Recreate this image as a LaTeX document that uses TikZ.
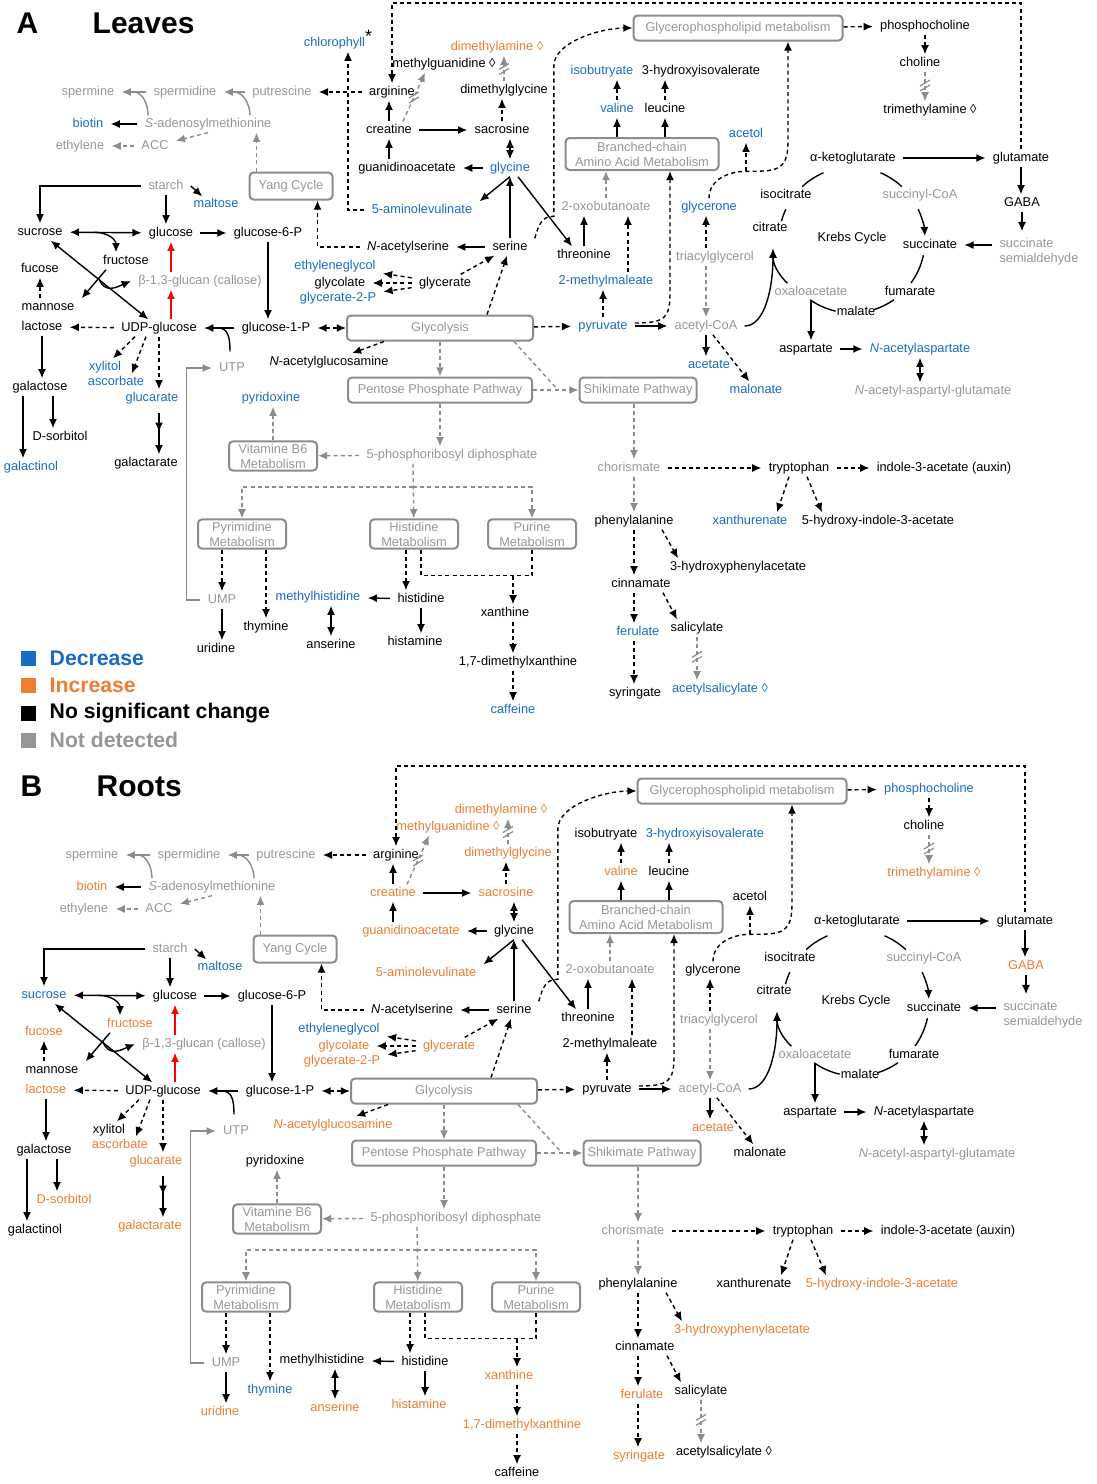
\documentclass[tikz,border=0pt]{standalone}
\usepackage{fontspec}
\setmainfont{Liberation Sans}
\usepackage{etoolbox}
\usetikzlibrary{arrows.meta,calc}
\definecolor{dec}{RGB}{24,108,196}
\definecolor{inc}{RGB}{237,125,49}
\definecolor{nd}{RGB}{150,150,150}
\definecolor{ndline}{RGB}{140,140,140}
\tikzstyle{every node}=[font=\fontsize{6.4}{7.5}\selectfont]
\tikzset{
  met/.code={\ifcsname mc-#1\endcsname\edef\metcol{\csname mc-#1\endcsname}\else\def\metcol{black}\fi
    \pgfkeysalso{text=\metcol,text height=4.7pt,text depth=1.3pt,inner ysep=1pt}},
  nd/.style={text=nd,text height=4.7pt,text depth=1.3pt,inner ysep=1pt},
  gy/.style={draw=ndline},
  pw/.style={draw=ndline,line width=1pt,rounded corners=2pt,text=nd,align=center,
    minimum height=12.5pt,inner sep=1.2pt},
  dashed/.style={dash pattern=on 2pt off 1.6pt},
  brk/.pic={\draw[draw=ndline,solid,line width=0.6pt] (-5,1)--(5,-5) (-5,6)--(5,0);},
  swatch/.style={fill=#1,minimum size=7.5pt,inner sep=0pt},
  legtext/.style={anchor=west,inner sep=0pt,font=\bfseries\fontsize{10.6}{12}\selectfont},
  panel/.style={anchor=west,inner sep=0pt,font=\bfseries\fontsize{15}{18}\selectfont}
}
% colour of a metabolite in one panel
\newcommand\paintone[2]{\csdef{mc-#2}{#1}}
\newcommand\paint[2]{\forcsvlist{\paintone{#1}}{#2}}

\newcommand\metabolism{%
% polyamines
\node[nd] (spermine) at (88,92) {spermine};
\node[nd] (spermidine) at (185,92) {spermidine};
\node[nd] (putrescine) at (282,92) {putrescine};
\node[nd] (sam) at (208,124) {\textit{S}-adenosylmethionine};
\node[met=biotin] (biotin) at (88,124) {biotin};
\node[nd] (ethylene) at (80,146) {ethylene};
\node[nd] (acc) at (155,146) {ACC};
\node[pw,minimum width=41.5pt,minimum height=13.5pt] (yang) at (291,186) {Yang Cycle};
% arginine, glycine, serine
\node[met=arginine] (arginine) at (392,92) {arginine};
\node[met=mguan] (mguan) at (444,64) {methylguanidine ◊};
\node[met=dma] (dma) at (497,47) {dimethylamine ◊};
\node[met=dmgly] (dmgly) at (504,90) {dimethylglycine};
\node[met=creatine] (creatine) at (389,130) {creatine};
\node[met=sarc] (sarc) at (502,130) {sacrosine};
\node[met=gaa] (gaa) at (407,168) {guanidinoacetate};
\node[met=glycine] (glycine) at (510,168) {glycine};
\node[met=ala] (ala) at (422,210) {5-aminolevulinate};
\node[met=serine] (serine) at (510,247) {serine};
\node[met=nacser] (nacser) at (408,247) {\textit{N}-acetylserine};
\node[met=eglycol] (eglycol) at (335,266) {ethyleneglycol};
\node[met=glycolate] (glycolate) at (340,283) {glycolate};
\node[met=g2p] (g2p) at (338,298) {glycerate-2-P};
\node[met=glycerate] (glycerate) at (445,283) {glycerate};
% sugars
\node[nd] (starch) at (166,186) {starch};
\node[met=maltose] (maltose) at (216,204) {maltose};
\node[met=sucrose] (sucrose) at (40,232) {sucrose};
\node[met=glucose] (glucose) at (171,233) {glucose};
\node[met=g6p] (g6p) at (268,233) {glucose-6-P};
\node[met=fructose] (fructose) at (126,261) {fructose};
\node[met=fucose] (fucose) at (40,269) {fucose};
\node[nd] (callose) at (200,281) {β-1,3-glucan (callose)};
\node[met=mannose] (mannose) at (48,307) {mannose};
\node[met=lactose] (lactose) at (42,327) {lactose};
\node[met=udpg] (udpg) at (159,328) {UDP-glucose};
\node[met=g1p] (g1p) at (276,328) {glucose-1-P};
\node[met=nacglc] (nacglc) at (329,362) {\textit{N}-acetylglucosamine};
\node[nd] (utp) at (232,368) {UTP};
\node[met=xylitol] (xylitol) at (105,367) {xylitol};
\node[met=ascorbate] (ascorbate) at (116,382) {ascorbate};
\node[met=glucarate] (glucarate) at (152,398) {glucarate};
\node[met=galactose] (galactose) at (40,387) {galactose};
\node[met=sorbitol] (sorbitol) at (60,437) {D-sorbitol};
\node[met=galactinol] (galactinol) at (31,467) {galactinol};
\node[met=galactarate] (galactarate) at (146,463) {galactarate};
% pathway boxes
\node[pw,minimum width=93pt] (glycolysis) at (440,328) {Glycolysis};
\node[pw,minimum width=92pt] (ppp) at (440,390) {Pentose Phosphate Pathway};
\node[pw,minimum width=58.5pt] (shikimate) at (638,390) {Shikimate Pathway};
\node[pw,minimum width=44pt] (vitb6) at (273,456) {Vitamine B6\\Metabolism};
\node[nd] (prpp) at (452,455) {5-phosphoribosyl diphosphate};
\node[pw,minimum width=44pt] (pyrimidine) at (242,534) {Pyrimidine\\Metabolism};
\node[pw,minimum width=44pt] (histmet) at (414,534) {Histidine\\Metabolism};
\node[pw,minimum width=44pt] (purine) at (532,534) {Purine\\Metabolism};
\node[met=pyridoxine] (pyridoxine) at (271,398) {pyridoxine};
% nucleotides, histidine, purines
\node[nd] (ump) at (222,600) {UMP};
\node[met=uridine] (uridine) at (216,649) {uridine};
\node[met=thymine] (thymine) at (266,627) {thymine};
\node[met=mhis] (mhis) at (318,597) {methylhistidine};
\node[met=anserine] (anserine) at (331,645) {anserine};
\node[met=histidine] (histidine) at (421,599) {histidine};
\node[met=histamine] (histamine) at (415,642) {histamine};
\node[met=xanthine] (xanthine) at (505,613) {xanthine};
\node[met=dmx] (dmx) at (518,662) {1,7-dimethylxanthine};
\node[met=caffeine] (caffeine) at (513,710) {caffeine};
% lipids, branched chain, pyruvate
\node[pw,minimum width=104.5pt] (gpl) at (738,28) {Glycerophospholipid metabolism};
\node[met=pcholine] (pcholine) at (925,26) {phosphocholine};
\node[met=choline] (choline) at (920,63) {choline};
\node[met=tma] (tma) at (930,110) {trimethylamine ◊};
\node[met=isobut] (isobut) at (602,71) {isobutryate};
\node[met=hiv] (hiv) at (701,71) {3-hydroxyisovalerate};
\node[met=valine] (valine) at (617,109) {valine};
\node[met=leucine] (leucine) at (665,109) {leucine};
\node[met=acetol] (acetol) at (746,134) {acetol};
\node[pw,minimum width=76.5pt,minimum height=16pt] (bcaa) at (642,154) {Branched-chain\\Amino Acid Metabolism};
\node[nd] (oxobut) at (606,207) {2-oxobutanoate};
\node[met=glycerone] (glycerone) at (709,207) {glycerone};
\node[met=threonine] (threonine) at (584,255) {threonine};
\node[nd] (tag) at (715,257) {triacylglycerol};
\node[met=mmal] (mmal) at (606,281) {2-methylmaleate};
\node[met=pyruvate] (pyruvate) at (603,326) {pyruvate};
\node[nd] (acoa) at (706,326) {acetyl-CoA};
\node[met=acetate] (acetate) at (709,365) {acetate};
\node[met=malonate] (malonate) at (756,390) {malonate};
% Krebs cycle
\node[met=akg] (akg) at (853,158) {α-ketoglutarate};
\node[met=glutamate] (glutamate) at (1021,158) {glutamate};
\node[met=gaba] (gaba) at (1022,203) {GABA};
\node[text=nd,align=left] (ssa) at (1039,252) {succinate\\semialdehyde};
\node[nd] (succoa) at (920,195) {succinyl-CoA};
\node[met=succinate] (succinate) at (930,245) {succinate};
\node[met=fumarate] (fumarate) at (910,292) {fumarate};
\node[met=malate] (malate) at (856,312) {malate};
\node[nd] (oaa) at (811,292) {oxaloacetate};
\node[met=citrate] (citrate) at (770,228) {citrate};
\node[met=isocitrate] (isocitrate) at (786,195) {isocitrate};
\node[met=krebs] (krebs) at (852,238) {Krebs Cycle};
\node[met=aspartate] (aspartate) at (806,349) {aspartate};
\node[met=naa] (naa) at (920,349) {\textit{N}-acetylaspartate};
\node[nd] (naag) at (933,391) {\textit{N}-acetyl-aspartyl-glutamate};
% aromatics
\node[nd] (chorismate) at (629,468) {chorismate};
\node[met=tryptophan] (tryptophan) at (799,468) {tryptophan};
\node[met=iaa] (iaa) at (944,468) {indole-3-acetate (auxin)};
\node[met=phe] (phe) at (634,521) {phenylalanine};
\node[met=xanthurenate] (xanthurenate) at (750,521) {xanthurenate};
\node[met=hiaa] (hiaa) at (878,521) {5-hydroxy-indole-3-acetate};
\node[met=hpa] (hpa) at (738,567) {3-hydroxyphenylacetate};
\node[met=cinnamate] (cinnamate) at (641,584) {cinnamate};
\node[met=ferulate] (ferulate) at (638,632) {ferulate};
\node[met=salicylate] (salicylate) at (697,628) {salicylate};
\node[met=syringate] (syringate) at (635,693) {syringate};
\node[met=asa] (asa) at (720,689) {acetylsalicylate ◊};
%
% connectors: polyamines
\draw[gy,->] (putrescine) -- (spermidine);
\draw[gy,->] (spermidine) -- (spermine);
\draw[gy] ($(sam.north)+(42,0)$) .. controls +(0,-12) and +(8,0) .. ($(putrescine.west)!.5!(spermidine.east)$);
\draw[gy] ($(sam.north)+(-60,0)$) .. controls +(0,-12) and +(8,0) .. ($(spermidine.west)!.5!(spermine.east)$);
\draw[->] (sam) -- (biotin);
\draw[gy,dashed,->] (sam.south) -- (acc);
\draw[gy,dashed,->] (acc) -- (ethylene);
\coordinate (yt) at ($(yang.north west)+(8,0)$);
\draw[gy,dashed,->] (yt) -- (yt |- sam.south);
\coordinate (top) at (0,3);
\draw[dashed,->] (glutamate.north) -- (glutamate.north |- top) -| (arginine);
\draw[dashed,->] (arginine) -- (putrescine);
% arginine, glycine, serine
\draw[->] (creatine) -- (creatine |- arginine.south);
\draw[gy,dashed,->] ($(creatine.north)+(14,0)$) -- coordinate[pos=.5] (cmg) ($(mguan.south)+(-19,0)$);
\pic at (cmg) {brk};
\draw[gy,dashed,->] (dmgly) -- coordinate[pos=.5] (dmg) (dmgly |- dma.south);
\pic at (dmg) {brk};
\draw[->] (creatine) -- (sarc);
\draw[dashed,->] (sarc) -- (sarc |- dmgly.south);
\draw[<->] (glycine) -- (glycine |- sarc.south);
\draw[->] (glycine) -- (gaa);
\draw[->] (creatine |- gaa.north) -- (creatine);
\draw[->] (glycine.south) -- (ala.north east);
\draw[->] ($(glycine.south)+(8,0)$) -- ($(threonine.north)+(-12,0)$);
\draw[->] (serine) -- (serine |- glycine.south);
\draw[->] (serine) -- (nacser);
\draw[dashed,->] (nacser) -| ($(yang.south east)+(-16,0)$);
\draw[dashed,->] (glycerate) -- (serine);
\draw[dashed,->] (glycerate) -- (eglycol);
\draw[dashed,->] (glycerate) -- (glycolate);
\draw[dashed,->] (glycerate) -- (g2p);
\draw[dashed,->] ($(glycolysis.north)+(47,0)$) -- (serine);
\draw[dashed,->] (serine.north east) .. controls +(4,-14) and +(-12,0) .. ++(19,-22) -- ++(0,-150)
  .. controls +(0,-25) and +(-30,0) .. (gpl.west);
% sugars
\draw[->] (starch) -| (sucrose);
\draw[->] (starch) -- (starch |- glucose.north);
\draw[->] (starch.east) -- ($(maltose.north west)+(16,1)$);
\draw[<->] (sucrose) -- coordinate[pos=.35] (sgj) (glucose);
\draw[->] (sgj) .. controls +(14,0) and +(0,-12) .. ($(fructose.north)+(-10,0)$);
\draw[->] (glucose) -- (g6p);
\draw[->] (g6p) -- (g6p |- g1p.north);
\draw[red,->] (glucose |- callose.north) -- (glucose);
\draw[red,->] (glucose |- udpg.north) -- (glucose |- callose.south);
\draw[<->] (sucrose) -- (udpg);
\draw[->] ($(fructose.south)+(-20,0)$) -- coordinate[pos=.3] (fmj) (mannose.north east);
\draw[->] (fmj) .. controls +(6,16) and +(-14,6) .. (callose.west);
\draw[dashed,->] (fucose |- mannose.north) -- (fucose);
\draw[dashed,->] (udpg) -- (lactose);
\draw[->] (lactose) -- (lactose |- galactose.north);
\draw[->] ($(galactose.south)+(13,0)$) -- ($(sorbitol.north)+(-7,0)$);
\draw[->] ($(galactose.south)+(-17,0)$) -- ($(galactinol.north)+(-8,0)$);
\draw[dashed,->] ($(udpg.south)+(-24,0)$) -- ($(xylitol.north)+(8,0)$);
\draw[dashed,->] ($(udpg.south)+(-13,0)$) -- ($(ascorbate.north)+(16,0)$);
\draw[dashed,->] (udpg) -- (udpg |- glucarate.north);
\draw[->] ($(glucarate.south)+(7,6)$) coordinate (gcj) -- ++(0,19);
\draw[->] (gcj) -- (gcj |- galactarate.north);
\draw[->] (g1p) -- (udpg);
\draw ($(utp.north)+(-2,-8)$) .. controls +(0,-14) and +(10,0) .. ($(udpg.east)+(14,0)$);
\draw[gy,->] (ump.west) -- ++(-14,0) |- (utp);
\draw[dashed,<->] (g1p) -- (glycolysis);
\draw[dashed,->] ($(glycolysis.south west)+(38,0)$) -- ($(nacglc.north)+(23,0)$);
% pathways
\draw[gy,dashed,->] (glycolysis) -- (ppp);
\draw[gy,dashed] ($(glycolysis.south east)+(-20,0)$) -- ($(ppp.east)!.55!(shikimate.west)$);
\draw[gy,dashed,->] (ppp) -- (shikimate);
\draw[gy,dashed,->] (ppp) -- (ppp |- prpp.north);
\draw[gy,dashed,->] (prpp) -- (vitb6);
\draw[gy,dashed,->] (vitb6) -- (vitb6 |- pyridoxine.south);
\coordinate (fork) at (413,487);
\draw[gy,dashed,->] (fork |- prpp.south) -- (histmet);
\draw[gy,dashed,->] (fork) -| (pyrimidine);
\draw[gy,dashed,->] (fork) -| (purine);
\draw[dashed,->] (ump |- pyrimidine.south) -- (ump);
\draw[dashed,->] (thymine |- pyrimidine.south) -- (thymine);
\draw[->] (ump) -- (ump |- uridine.north);
\draw[dashed,->] ($(histmet.south)+(-8,0)$) -- ($(histidine.north)+(-15,0)$);
\draw[dashed] ($(histmet.south)+(7,0)$) -- ++(0,26) -| (purine.south);
\draw[dashed,->] ($(purine.south)+(-19,26)$) -- ($(xanthine.north)+(8,0)$);
\draw[->] (histidine) -- (mhis);
\draw[->] (histidine) -- (histidine |- histamine.north);
\draw[<->] (anserine |- mhis.south) -- (anserine);
\draw[dashed,->] ($(xanthine.south)+(8,0)$) -- ($(dmx.north)+(-5,0)$);
\draw[dashed,->] ($(dmx.south)+(-5,0)$) -- (caffeine);
% lipids, branched chain, pyruvate
\draw[dashed,->] (gpl) -- (pcholine);
\draw[dashed,->] (pcholine) -- (pcholine |- choline.north);
\draw[gy,dashed,->] (pcholine |- choline.south) -- coordinate[pos=.45] (ctj) (pcholine |- tma.north);
\pic at (ctj) {brk};
\draw[->] (valine |- bcaa.north) -- (valine);
\draw[->] (leucine |- bcaa.north) -- (leucine);
\draw[dashed,->] (valine) -- (valine |- isobut.south);
\draw[dashed,->] (leucine) -- (leucine |- hiv.south);
\draw[gy,dashed,->] (oxobut) -- (oxobut |- bcaa.south);
\draw[->] (threonine) -- (threonine |- oxobut.south);
\draw[dashed,->] ($(mmal.north)+(22,0)$) -- ($(oxobut.south)+(22,0)$);
\draw[dashed,->] (pyruvate) -- (pyruvate |- mmal.south);
\draw[dashed,->] ($(pyruvate.east)+(0,-3)$) .. controls +(30,0) and +(0,25) .. ($(bcaa.south)+(28,122)$) -- ($(bcaa.south)+(28,0)$);
\draw[dashed,->] (glycolysis) -- (pyruvate);
\draw[->] (pyruvate) -- (acoa);
\draw[->] (acoa) -- (acoa |- acetate.north);
\draw[dashed,->] (acoa) -- (malonate);
\draw[gy,dashed,->] (acoa |- tag.south) -- (acoa);
\draw[dashed,->] (acoa |- tag.north) -- (acoa |- glycerone.south);
\draw[dashed,->] (glycerone.north) .. controls +(0,-20) and +(-15,0) .. ($(glycerone.north)+(37,-27)$) coordinate (acj)
  .. controls +(30,0) and +(0,30) .. ($(gpl.south)+(50,100)$) -- ($(gpl.south)+(50,0)$);
\draw[dashed,->] (acj) -- (acj |- acetol.south);
% Krebs cycle
\coordinate (kc) at (852,240);
\coordinate (cit) at ($(citrate.south)+(3,12)$);
\draw ($(kc)+(-113:73)$) arc[start angle=-113,end angle=-133,radius=73];
\draw ($(kc)+(-155:73)$) arc[start angle=-155,end angle=-165,radius=73];
\draw ($(kc)+(-67:73)$) arc[start angle=-67,end angle=-47,radius=73];
\draw[->] ($(kc)+(-25:73)$) arc[start angle=-25,end angle=-3,radius=73];
\draw ($(kc)+(12:73)$) arc[start angle=12,end angle=36,radius=73];
\draw ($(kc)+(55:73)$) arc[start angle=55,end angle=73,radius=73];
\draw ($(kc)+(103:73)$) arc[start angle=103,end angle=125,radius=73];
\draw[->] ($(oaa.north west)+(20,0)$) .. controls +(-10,-10) and +(0,15) .. (cit);
\draw[->] (acoa.east) .. controls +(20,0) and +(0,40) .. (cit);
\draw[->] (akg) -- (glutamate);
\draw[->] (glutamate) -- (glutamate |- gaba.north);
\draw[->] (gaba) -- (gaba |- ssa.north);
\draw[->] (ssa.west |- succinate) -- (succinate);
\draw[->] (oaa) -- (oaa |- aspartate.north);
\draw[->] (aspartate) -- (naa);
\draw[<->] (naa) -- (naa |- naag.north);
% aromatics
\draw[gy,dashed,->] (phe |- shikimate.south) -- (phe |- chorismate.north);
\draw[gy,dashed,->] (phe |- chorismate.south) -- (phe);
\draw[dashed,->] (chorismate) -- (tryptophan);
\draw[dashed,->] (tryptophan) -- (iaa);
\draw[dashed,->] ($(tryptophan.south)+(-10,0)$) -- ($(xanthurenate.north)+(27,0)$);
\draw[dashed,->] ($(tryptophan.south)+(8,0)$) -- ($(hiaa.north)+(-56,0)$);
\draw[dashed,->] (phe) -- (phe |- cinnamate.north);
\draw[dashed,->] ($(phe.south)+(28,0)$) -- ($(hpa.north)+(-60,0)$);
\draw[dashed,->] (phe |- cinnamate.south) -- (phe |- ferulate.north);
\draw[dashed,->] ($(cinnamate.south)+(22,0)$) -- ($(salicylate.north)+(-20,0)$);
\draw[dashed,->] (phe |- ferulate.south) -- (phe |- syringate.north);
\draw[gy,dashed,->] (salicylate) -- coordinate[pos=.45] (saj) (salicylate |- asa.north);
\pic at (saj) {brk};
}

\begin{document}
\begin{tikzpicture}[x=0.5pt,y=-0.5pt,line width=0.7pt,>={Latex[length=4.6pt,width=4pt]}]
\useasboundingbox (0,0) rectangle (1097,1484);

% A: leaves
\node[panel] (labA) at (16,23) {A};
\node[panel] (titA) at (92,23) {Leaves};
\begin{scope}[name prefix=A-]
\paint{dec}{chlorophyll,isobut,valine,acetol,biotin,maltose,ala,glycine,glycerone,xylitol,ascorbate,glucarate,galactinol,eglycol,g2p,mmal,pyruvate,acetate,malonate,naa,pyridoxine,mhis,xanthurenate,ferulate,asa,caffeine}
\paint{inc}{dma}
\metabolism
\node[met=chlorophyll] (chlorophyll) at (338,43) {chlorophyll\raisebox{2pt}{\textcolor{black}{\fontsize{9}{9}\selectfont *}}};
\draw[dashed,->] (ala) -| ($(chlorophyll.south)+(10,0)$);
\end{scope}

% legend
\node[swatch=dec] (kdec) at (28.5,658) {};
\node[legtext,text=dec] (ldec) at (49,658) {Decrease};
\node[swatch=inc] (kinc) at (28.5,685) {};
\node[legtext,text=inc] (linc) at (49,685) {Increase};
\node[swatch=black] (knsc) at (28.5,713) {};
\node[legtext] (lnsc) at (49,713) {No significant change};
\node[swatch=nd] (knd) at (28.5,740) {};
\node[legtext,text=nd] (lnd) at (49,740) {Not detected};

% B: roots
\node[panel] (labB) at (20,786) {B};
\node[panel] (titB) at (96,786) {Roots};
\begin{scope}[shift={(4,763)},name prefix=B-]
\paint{dec}{pcholine,hiv,maltose,sucrose,eglycol,thymine}
\paint{inc}{dma,mguan,dmgly,creatine,sarc,gaa,ala,biotin,fucose,fructose,lactose,ascorbate,glucarate,sorbitol,galactarate,nacglc,glycolate,g2p,glycerate,uridine,anserine,histamine,xanthine,dmx,valine,tma,gaba,acetate,hiaa,hpa,ferulate,syringate}
\metabolism
\end{scope}
\end{tikzpicture}
\end{document}
